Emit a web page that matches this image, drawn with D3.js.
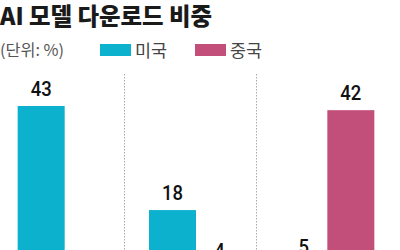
<!DOCTYPE html>
<html><head><meta charset="utf-8">
<script src="https://cdn.jsdelivr.net/npm/d3@7"></script>
<style>
html,body{margin:0;padding:0;background:#fff;overflow:hidden;}
svg{display:block;}
</style></head>
<body>
<svg id="c" width="400" height="250"></svg>
<script>
const groups = ["g1", "g2", "g3"];
const seriesNames = ["미국", "중국"];
const usValues = [43, 18, 5];
const cnValues = [0, 4, 42];
const title = "AI 모델 다운로드 비중";
const unitLabel = "(단위: %)";
const colors = ["#0BB1CD", "#C24F79"];

const svg = d3.select("#c");
const font = "'Noto Sans CJK KR', 'Noto Sans', sans-serif";
const numFont = "Roboto, 'Liberation Sans', sans-serif";

const x = d3.scaleBand().domain(groups).range([-1, 393]).paddingInner(0).paddingOuter(0);
const bw = 47;
const y = d3.scaleLinear().domain([0, 43]).range([285, 106]);

// title
svg.append("text").attr("x", 0).attr("y", 25)
  .attr("font-family", font).attr("font-weight", 900).attr("font-size", 23.5)
  .attr("textLength", 212).attr("lengthAdjust", "spacingAndGlyphs")
  .attr("fill", "#1a1a1a").text(title);

// legend
svg.append("text").attr("x", 0).attr("y", 56)
  .attr("font-family", font).attr("font-size", 16)
  .attr("textLength", 64).attr("lengthAdjust", "spacingAndGlyphs")
  .attr("fill", "#555").text(unitLabel);
const legX = [100, 195];
seriesNames.forEach((n, i) => {
  svg.append("rect").attr("x", legX[i]).attr("y", 44).attr("width", 31).attr("height", 12).attr("fill", colors[i]);
  svg.append("text").attr("x", legX[i] + 35).attr("y", 57)
    .attr("font-family", font).attr("font-size", 17).attr("fill", "#444")
    .attr("textLength", 32).attr("lengthAdjust", "spacingAndGlyphs").text(n);
});

// dividers
groups.slice(1).forEach(g => {
  const xx = Math.round(x(g)) - 5.5;
  svg.append("line").attr("x1", xx).attr("x2", xx).attr("y1", 74).attr("y2", 250)
    .attr("stroke", "#aaa").attr("stroke-width", 1).attr("stroke-dasharray", "1.5,1.5");
});

const data = groups.map((g, i) => ({g, vals: [usValues[i], cnValues[i]]}));
data.forEach(d => {
  const cx = x(d.g) + x.bandwidth() / 2;
  d.vals.forEach((v, j) => {
    if (v <= 0) return;
    const bx = cx - bw + j * bw;
    svg.append("rect").attr("x", bx).attr("y", y(v)).attr("width", bw).attr("height", y(0) - y(v))
      .attr("fill", colors[j]);
    const lx = bx + bw / 2;
    svg.append("text").attr("x", lx).attr("y", y(v) - 10)
      .attr("text-anchor", "middle").attr("font-family", numFont).attr("font-weight", 500)
      .attr("font-size", 21).attr("fill", "#111")
      .attr("transform", `translate(${lx},0) scale(0.88,1) translate(${-lx},0)`)
      .text(v);
  });
});
</script>
</body></html>
